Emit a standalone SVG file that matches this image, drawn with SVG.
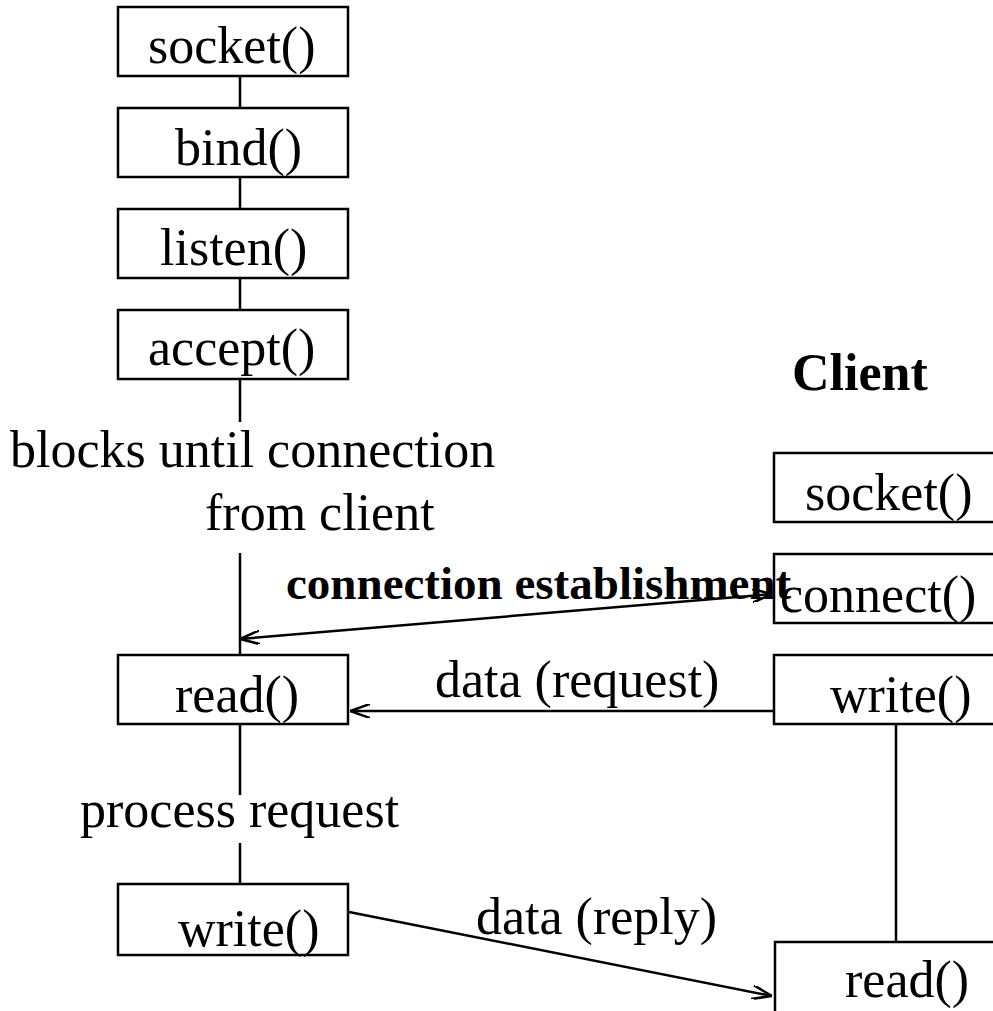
<svg xmlns="http://www.w3.org/2000/svg" width="993" height="1011" viewBox="0 0 993 1011">
<defs>
<style>
.box{fill:#fff;stroke:#000;stroke-width:2.5}
.ln{fill:none;stroke:#000;stroke-width:2.5}
.t{font-family:"Liberation Serif","Times New Roman",serif;font-size:52px;fill:#000}
.b{font-family:"Liberation Serif","Times New Roman",serif;font-weight:bold;fill:#000}
</style>
<marker id="ah" viewBox="0 0 20 14" refX="20" refY="7" markerWidth="20" markerHeight="14" markerUnits="userSpaceOnUse" orient="auto-start-reverse">
<path d="M0,0 L20,7 L0,14" fill="none" stroke="#000" stroke-width="2.5"/>
</marker>
</defs>
<rect width="993" height="1011" fill="#fff"/>
<g id="connectors">
<line class="ln" x1="240" y1="76" x2="240" y2="107"/>
<line class="ln" x1="240" y1="177" x2="240" y2="209"/>
<line class="ln" x1="240" y1="278" x2="240" y2="310"/>
<line class="ln" x1="240" y1="379" x2="240" y2="422"/>
<line class="ln" x1="240" y1="553" x2="240" y2="655"/>
<line class="ln" x1="240" y1="724" x2="240" y2="795"/>
<line class="ln" x1="240" y1="843" x2="240" y2="884"/>
<line class="ln" x1="896" y1="724" x2="896" y2="942"/>
<line class="ln" x1="240" y1="639" x2="772" y2="594" marker-start="url(#ah)" marker-end="url(#ah)"/>
<line class="ln" x1="774" y1="711" x2="350" y2="711" marker-end="url(#ah)"/>
<line class="ln" x1="349" y1="912" x2="772" y2="996" marker-end="url(#ah)"/>
</g>
<g id="srv-socket"><rect class="box" x="118" y="7" width="230" height="69"/><text class="t" x="148" y="63">socket()</text></g>
<g id="srv-bind"><rect class="box" x="118" y="108" width="230" height="69"/><text class="t" x="175" y="165">bind()</text></g>
<g id="srv-listen"><rect class="box" x="118" y="209" width="230" height="69"/><text class="t" x="160" y="265">listen()</text></g>
<g id="srv-accept"><rect class="box" x="118" y="310" width="230" height="69"/><text class="t" x="148" y="365">accept()</text></g>
<g id="lbl-blocks"><text class="t" x="10" y="467">blocks until connection</text><text class="t" x="205" y="530">from client</text></g>
<g id="srv-read"><rect class="box" x="118" y="655" width="230" height="69"/><text class="t" x="175" y="712">read()</text></g>
<g id="lbl-process"><text class="t" x="80" y="827">process request</text></g>
<g id="srv-write"><rect class="box" x="118" y="884" width="230" height="71"/><text class="t" x="178" y="946">write()</text></g>
<g id="lbl-client"><text class="b" x="792" y="390" font-size="52">Client</text></g>
<g id="cli-socket"><rect class="box" x="774" y="453" width="240" height="69"/><text class="t" x="805" y="510">socket()</text></g>
<g id="cli-connect"><rect class="box" x="774" y="554" width="240" height="69"/><text class="t" x="780" y="612">connect()</text></g>
<g id="cli-write"><rect class="box" x="774" y="655" width="240" height="69"/><text class="t" x="830" y="712">write()</text></g>
<g id="cli-read"><rect class="box" x="775" y="942" width="240" height="80"/><text class="t" x="845" y="997">read()</text></g>
<g id="lbl-conn"><text class="b" x="286" y="599" font-size="47">connection establishment</text></g>
<g id="lbl-req"><text class="t" x="435" y="697">data (request)</text></g>
<g id="lbl-reply"><text class="t" x="476" y="934">data (reply)</text></g>
</svg>
